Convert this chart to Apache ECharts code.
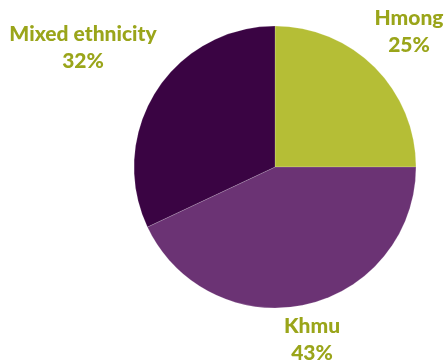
<!DOCTYPE html>
<html>
<head>
<meta charset="utf-8">
<script src="https://cdn.jsdelivr.net/npm/echarts@6/dist/echarts.min.js"></script>
<style>
  html, body { margin: 0; padding: 0; background: #fff; }
  #chart { width: 445px; height: 361px; }
</style>
</head>
<body>
<div id="chart"></div>
<script>
// ethnic groups, share in percent
const groups = ['Hmong', 'Khmu', 'Mixed ethnicity'];
const shares = [25, 43, 32];
const colors = ['#b5be36', '#6b3374', '#3a0443'];
// where each label sits (centre of the two-line text)
const labelSpots = [[409, 32], [312, 340], [83, 48]];

const chart = echarts.init(document.getElementById('chart'));

chart.setOption({
  animation: false,
  series: [{
    type: 'pie',
    center: [275, 167],
    radius: [0, 141],
    startAngle: 90,
    clockwise: true,
    data: groups.map((g, i) => ({
      name: g,
      value: shares[i],
      itemStyle: { color: colors[i] }
    })),
    itemStyle: { borderColor: 'rgba(255,255,255,0.35)', borderWidth: 0.5 },
    label: {
      show: true,
      position: 'outside',
      alignTo: 'none',
      overflow: 'none',
      formatter: p => p.name + '\n' + p.value + '%',
      color: '#9aa51a',
      fontFamily: 'Lato',
      fontWeight: 900,
      fontSize: 21,
      lineHeight: 27,
      align: 'center'
    },
    labelLine: { show: false },
    labelLayout: params => ({
      x: labelSpots[params.dataIndex][0],
      y: labelSpots[params.dataIndex][1],
      align: 'center',
      verticalAlign: 'middle',
      width: 200
    }),
    emphasis: { disabled: true }
  }]
});
</script>
</body>
</html>
